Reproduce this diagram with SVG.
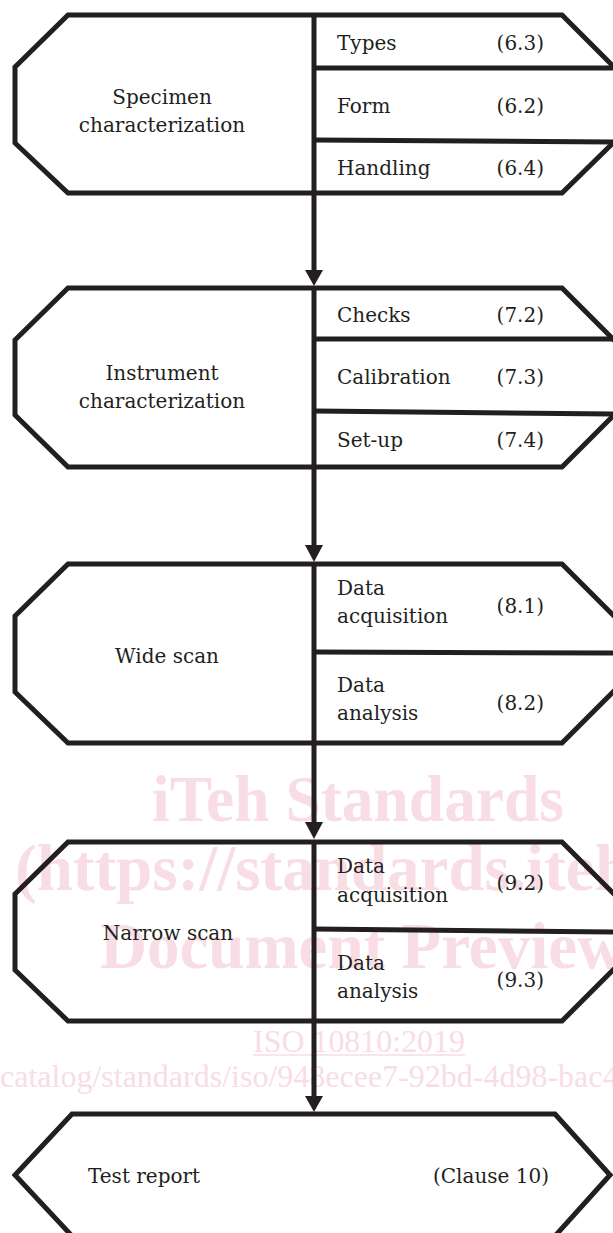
<svg xmlns="http://www.w3.org/2000/svg" width="613" height="1233" viewBox="0 0 613 1233">
  <defs>
    <style>
      .outline { fill: none; stroke: #231f20; stroke-width: 5; stroke-linejoin: miter; }
      .div { fill: none; stroke: #231f20; stroke-width: 5; }
      .wire { fill: none; stroke: #231f20; stroke-width: 5; }
      .head { fill: #231f20; stroke: none; }
      .t { font-family: "DejaVu Serif", "Liberation Serif", serif; font-size: 20px; fill: #231f20; }
      .mid { text-anchor: middle; }
      .end { text-anchor: end; }
      .wm { font-family: "Liberation Serif", "Times New Roman", serif; fill: #f8dde4; }
      .wmb { font-weight: bold; font-size: 65px; }
      .wms { font-size: 32px; }
    </style>
  </defs>

  <rect x="0" y="0" width="613" height="1233" fill="#ffffff"/>

  <!-- background stamp text -->
  <g id="stamp">
    <text class="wm wmb" x="152" y="821" textLength="412" lengthAdjust="spacingAndGlyphs">iTeh Standards</text>
    <text class="wm wmb" x="15" y="890">(https://standards.iteh</text>
    <text class="wm wmb" x="100" y="968">Document Preview</text>
    <text class="wm wms" x="253" y="1052" textLength="212" lengthAdjust="spacingAndGlyphs">ISO 10810:2019</text>
    <line x1="253" y1="1055" x2="465" y2="1055" stroke="#f8dde4" stroke-width="1.5"/>
    <text class="wm wms" x="0" y="1087">catalog/standards/iso/948ecee7-92bd-4d98-bac4</text>
  </g>

  <!-- Specimen characterization -->
  <g id="specimen">
    <path class="outline" d="M68,15 L562,15 L616,69 L616,140 L562,193 L68,193 L15,143 L15,67 Z"/>
    <line class="div" x1="314" y1="15" x2="314" y2="193"/>
    <line class="div" x1="314" y1="68" x2="616" y2="68"/>
    <line class="div" x1="314" y1="140" x2="616" y2="142"/>
    <text class="t mid" x="162" y="104">Specimen</text>
    <text class="t mid" x="162" y="132">characterization</text>
    <text class="t" x="337" y="50">Types</text>
    <text class="t end" x="544" y="50">(6.3)</text>
    <text class="t" x="337" y="113">Form</text>
    <text class="t end" x="544" y="113">(6.2)</text>
    <text class="t" x="337" y="175">Handling</text>
    <text class="t end" x="544" y="175">(6.4)</text>
  </g>

  <!-- Instrument characterization -->
  <g id="instrument">
    <path class="outline" d="M68,288 L562,288 L616,342 L616,413 L562,467 L68,467 L15,415 L15,340 Z"/>
    <line class="div" x1="314" y1="288" x2="314" y2="467"/>
    <line class="div" x1="314" y1="339" x2="616" y2="339"/>
    <line class="div" x1="314" y1="411" x2="616" y2="414"/>
    <text class="t mid" x="162" y="380">Instrument</text>
    <text class="t mid" x="162" y="408">characterization</text>
    <text class="t" x="337" y="322">Checks</text>
    <text class="t end" x="544" y="322">(7.2)</text>
    <text class="t" x="337" y="384">Calibration</text>
    <text class="t end" x="544" y="384">(7.3)</text>
    <text class="t" x="337" y="447">Set-up</text>
    <text class="t end" x="544" y="447">(7.4)</text>
  </g>

  <!-- Wide scan -->
  <g id="wide-scan">
    <path class="outline" d="M68,564 L562,564 L616,618 L616,689 L562,743 L68,743 L15,692 L15,616 Z"/>
    <line class="div" x1="314" y1="564" x2="314" y2="743"/>
    <line class="div" x1="314" y1="652" x2="616" y2="653"/>
    <text class="t mid" x="167" y="663">Wide scan</text>
    <text class="t" x="337" y="595">Data</text>
    <text class="t" x="337" y="623">acquisition</text>
    <text class="t end" x="544" y="613">(8.1)</text>
    <text class="t" x="337" y="692">Data</text>
    <text class="t" x="337" y="720">analysis</text>
    <text class="t end" x="544" y="710">(8.2)</text>
  </g>

  <!-- Narrow scan -->
  <g id="narrow-scan">
    <path class="outline" d="M68,842 L562,842 L616,896 L616,967 L562,1021 L68,1021 L15,970 L15,894 Z"/>
    <line class="div" x1="314" y1="842" x2="314" y2="1021"/>
    <line class="div" x1="314" y1="929" x2="616" y2="932"/>
    <text class="t mid" x="168" y="940">Narrow scan</text>
    <text class="t" x="337" y="873">Data</text>
    <text class="t" x="337" y="902">acquisition</text>
    <text class="t end" x="544" y="890">(9.2)</text>
    <text class="t" x="337" y="970">Data</text>
    <text class="t" x="337" y="998">analysis</text>
    <text class="t end" x="544" y="987">(9.3)</text>
  </g>

  <!-- Test report -->
  <g id="test-report">
    <path class="outline" d="M72,1114 L555,1114 L610,1175 L555,1236 L72,1236 L15,1175 Z"/>
    <text class="t" x="88" y="1183">Test report</text>
    <text class="t end" x="549" y="1183">(Clause 10)</text>
  </g>

  <!-- flow arrows -->
  <g id="connectors">
    <line class="wire" x1="314" y1="193" x2="314" y2="272"/>
    <polygon class="head" points="305,270 323,270 314,286"/>
    <line class="wire" x1="314" y1="467" x2="314" y2="547"/>
    <polygon class="head" points="305,545 323,545 314,562"/>
    <line class="wire" x1="314" y1="743" x2="314" y2="824"/>
    <polygon class="head" points="305,822 323,822 314,839"/>
    <line class="wire" x1="314" y1="1021" x2="314" y2="1098"/>
    <polygon class="head" points="305,1096 323,1096 314,1112"/>
  </g>
</svg>
